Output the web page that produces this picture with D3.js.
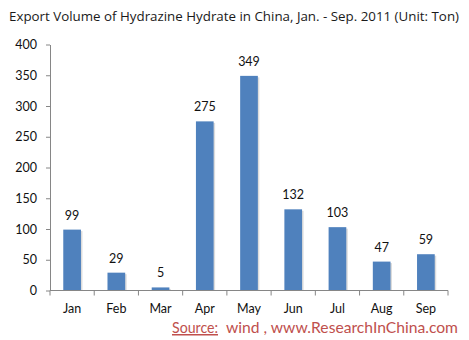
<!DOCTYPE html>
<html>
<head>
<meta charset="utf-8">
<script src="https://cdn.jsdelivr.net/npm/d3@7"></script>
<style>
  body { margin: 0; background: #fff; }
  svg { display: block; }
</style>
</head>
<body>
<div id="chart"></div>
<script>
// chart data
const months = ['Jan', 'Feb', 'Mar', 'Apr', 'May', 'Jun', 'Jul', 'Aug', 'Sep'];
const volumes = [99, 29, 5, 275, 349, 132, 103, 47, 59];
const yTicks = [0, 50, 100, 150, 200, 250, 300, 350, 400];

const width = 469, height = 340;
const margin = { left: 50, right: 21, top: 44.5, bottom: 49.5 };

const svg = d3.select('#chart').append('svg')
    .attr('width', width)
    .attr('height', height);

// title
svg.append('text')
    .attr('x', 9)
    .attr('y', 21)
    .attr('textLength', 450)
    .attr('lengthAdjust', 'spacingAndGlyphs')
    .style('font-family', '"Open Sans", sans-serif')
    .style('font-size', '13.5px')
    .attr('fill', '#1a1a1a')
    .text('Export Volume of Hydrazine Hydrate in China, Jan. - Sep. 2011 (Unit: Ton)');

const x = d3.scaleBand()
    .domain(months)
    .range([margin.left, width - margin.right])
    .paddingInner(0.6)
    .paddingOuter(0.3);

const y = d3.scaleLinear()
    .domain([0, 400])
    .range([height - margin.bottom, margin.top]);

const font = 'Lato, "Open Sans", sans-serif';

// y axis
const yAxis = svg.append('g')
    .attr('transform', `translate(${margin.left},0)`)
    .call(d3.axisLeft(y).tickValues(yTicks).tickSize(4).tickPadding(9).tickSizeOuter(0));
yAxis.select('.domain').attr('stroke', '#868686');
yAxis.selectAll('.tick line').attr('stroke', '#868686');
yAxis.selectAll('text')
    .style('font-family', font)
    .style('font-size', '12.5px')
    .attr('fill', '#111');

// bar shadows
const barW = x.bandwidth();
svg.append('g').selectAll('rect')
    .data(volumes)
    .join('rect')
    .attr('x', (d, i) => x(months[i]) + 1.5)
    .attr('y', d => y(d) + 1.5)
    .attr('width', barW)
    .attr('height', d => y(0) - y(d) - 1.5)
    .attr('fill', '#dcdcdc');

// bars
svg.append('g').selectAll('rect')
    .data(volumes)
    .join('rect')
    .attr('x', (d, i) => x(months[i]))
    .attr('y', d => y(d))
    .attr('width', barW)
    .attr('height', d => y(0) - y(d))
    .attr('fill', '#4f81bd');

// value labels
svg.append('g').selectAll('text')
    .data(volumes)
    .join('text')
    .attr('x', (d, i) => x(months[i]) + barW / 2)
    .attr('y', d => y(d) - 10)
    .attr('text-anchor', 'middle')
    .style('font-family', font)
    .style('font-size', '12.5px')
    .attr('fill', '#111')
    .text(d => d);

// x axis with ticks between categories
const xAxis = svg.append('g')
    .attr('transform', `translate(0,${y(0)})`);
xAxis.append('line')
    .attr('x1', margin.left).attr('x2', width - margin.right)
    .attr('stroke', '#868686');
const step = x.step();
xAxis.selectAll('line.tk')
    .data(d3.range(months.length + 1))
    .join('line')
    .attr('class', 'tk')
    .attr('x1', i => margin.left + i * step)
    .attr('x2', i => margin.left + i * step)
    .attr('y1', 0).attr('y2', 5)
    .attr('stroke', '#868686');
xAxis.selectAll('text')
    .data(months)
    .join('text')
    .attr('x', d => x(d) + barW / 2)
    .attr('y', 22)
    .attr('text-anchor', 'middle')
    .style('font-family', font)
    .style('font-size', '12.5px')
    .attr('fill', '#111')
    .text(d => d);

// source line
svg.append('text')
    .attr('x', 172)
    .attr('y', 333)
    .attr('textLength', 46)
    .attr('lengthAdjust', 'spacingAndGlyphs')
    .attr('text-decoration', 'underline')
    .style('font-family', font)
    .style('font-size', '15px')
    .attr('fill', '#c0504d')
    .text('Source:');
svg.append('text')
    .attr('x', 226)
    .attr('y', 333)
    .attr('textLength', 232)
    .attr('lengthAdjust', 'spacingAndGlyphs')
    .style('font-family', font)
    .style('font-size', '15px')
    .attr('fill', '#c0504d')
    .text('wind , www.ResearchInChina.com');
</script>
</body>
</html>
